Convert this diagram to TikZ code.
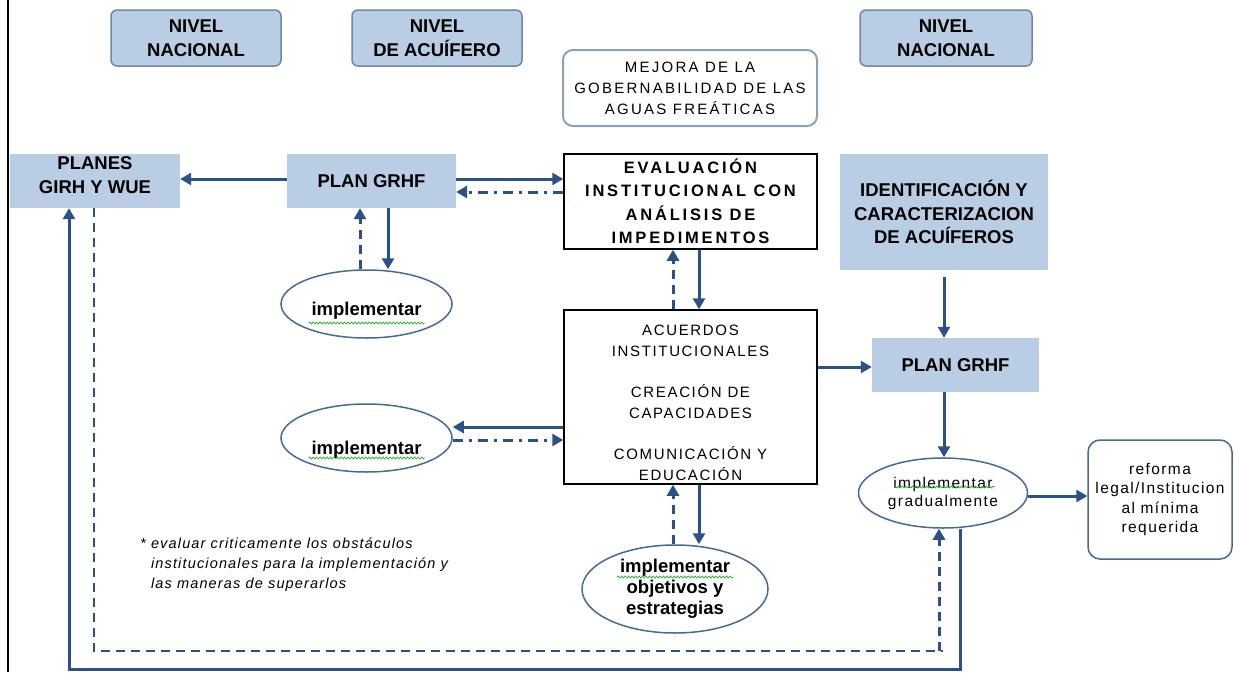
\documentclass[tikz,border=0pt]{standalone}
\usepackage{fontspec}
\setmainfont{Liberation Sans}
\newfontfamily\spacedfont[LetterSpace=15]{Liberation Sans}
\newfontfamily\widebold[LetterSpace=17]{Liberation Sans}
\newfontfamily\acuerdosfont[LetterSpace=11]{Liberation Sans}
\newfontfamily\softspaced[LetterSpace=9]{Liberation Sans}
\newfontfamily\notefont[LetterSpace=8]{Liberation Sans}
\usetikzlibrary{arrows.meta,shapes.geometric,decorations.pathmorphing}

\definecolor{boxblue}{RGB}{185,205,229}
\definecolor{edgeblue}{RGB}{110,135,172}
\definecolor{arrowblue}{RGB}{42,82,137}
\definecolor{ovalblue}{RGB}{72,104,150}
\definecolor{softedge}{RGB}{140,160,190}
\definecolor{squiggle}{RGB}{40,170,40}

\tikzset{
  levelbox/.style={draw=edgeblue, line width=1.5pt, fill=boxblue, rounded corners=6pt,
    minimum width=170pt, minimum height=56pt, inner sep=0pt, align=center,
    font=\fontsize{18.5}{24}\selectfont\bfseries},
  bluebox/.style={fill=boxblue, inner sep=0pt, align=center,
    font=\fontsize{18.5}{24}\selectfont\bfseries},
  framebox/.style={draw=black, line width=1.5pt, fill=white, inner sep=0pt, align=center},
  oval/.style={ellipse, draw=ovalblue, line width=1.5pt, inner sep=0pt},
  label text/.style={inner sep=0pt, align=center},
  arr/.style={draw=arrowblue, line width=3pt, -{Triangle[length=11pt,width=12pt]}},
  dashedarr/.style={arr, dash pattern=on 9pt off 6pt},
  dashdotarr/.style={arr, dash pattern=on 10pt off 6pt on 3pt off 6pt},
  dashedline/.style={draw=arrowblue, line width=2.5pt, dash pattern=on 9pt off 6pt},
  squig/.style={draw=squiggle, line width=0.7pt, decorate,
    decoration={snake, amplitude=1pt, segment length=3.5pt}},
}

\begin{document}
\begin{tikzpicture}[x=1pt,y=-1pt]
\useasboundingbox (0,0) rectangle (1234,672);

% page edge on the left
\draw[line width=2pt] (8,0) -- (8,672);

% level headers
\node[levelbox] (nv1) at (196,38) {NIVEL\\NACIONAL};
\node[levelbox] (nv2) at (437,38) {NIVEL\\DE ACUÍFERO};
\node[levelbox, minimum width=172pt] (nv3) at (946,38) {NIVEL\\NACIONAL};

% goal
\node[draw=softedge, line width=2pt, rounded corners=10pt, minimum width=254pt,
  minimum height=76pt, inner sep=0pt, align=center,
  font=\spacedfont\fontsize{15}{21}\selectfont] (mej) at (690,88)
  {MEJORA DE LA\\GOBERNABILIDAD DE LAS\\AGUAS FREÁTICAS};

% national / aquifer plans
\node[bluebox, minimum width=170pt, minimum height=54pt] (pl) at (95,181) {};
\node[label text, anchor=north, font=\fontsize{18.5}{24}\selectfont\bfseries] (pltext)
  at (95,156) {PLANES\\GIRH Y WUE};
\node[bluebox, minimum width=169pt, minimum height=54pt] (pg1) at (371.5,181) {PLAN GRHF};

% institutional evaluation
\node[framebox, minimum width=253pt, minimum height=95pt,
  font=\widebold\fontsize{16.5}{23.5}\selectfont\bfseries] (ev) at (690.5,201.5)
  {EVALUACIÓN\\INSTITUCIONAL CON\\ANÁLISIS DE\\IMPEDIMENTOS};

% aquifer identification
\node[bluebox, minimum width=208pt, minimum height=116pt,
  font=\fontsize{18.5}{23.5}\selectfont\bfseries] (id) at (944,212)
  {IDENTIFICACIÓN Y\\CARACTERIZACION\\DE ACUÍFEROS};

% implementation ovals on the left
\node[oval, minimum width=171pt, minimum height=68pt] (im1) at (366.5,304) {};
\node[label text, anchor=base, font=\fontsize{18.5}{22}\selectfont\bfseries] (im1text)
  at (366.5,315) {implementar};
\node[oval, minimum width=171pt, minimum height=68pt] (im2) at (366.5,438) {};
\node[label text, anchor=base, font=\fontsize{18.5}{22}\selectfont\bfseries] (im2text)
  at (366.5,454) {implementar};

% institutional measures
\node[framebox, minimum width=253pt, minimum height=174pt] (ac) at (690.5,397) {};
\node[label text, anchor=north, font=\acuerdosfont\fontsize{15}{20.7}\selectfont] (actext)
  at (690.5,325)
  {ACUERDOS\\INSTITUCIONALES\\[20.7pt]CREACIÓN DE\\CAPACIDADES\\[20.7pt]COMUNICACIÓN Y\\EDUCACIÓN};

% national plan and gradual implementation
\node[bluebox, minimum width=167pt, minimum height=54pt] (pg2) at (955.5,365) {PLAN GRHF};
\node[oval, minimum width=169pt, minimum height=70pt,
  font=\softspaced\fontsize{15.5}{18}\selectfont, align=center] (gr) at (943,493)
  {implementar\\gradualmente};
\node[draw=ovalblue, line width=1.5pt, rounded corners=12pt, minimum width=144pt,
  minimum height=119pt, inner sep=0pt, align=center,
  font=\softspaced\fontsize{15.5}{19.5}\selectfont] (rf) at (1160,499.5)
  {reforma\\legal/Institucion\\al mínima\\requerida};

% objectives oval
\node[oval, minimum width=186pt, minimum height=88pt, align=center,
  font=\fontsize{18.5}{21}\selectfont\bfseries] (ob) at (675,589)
  {implementar\\objetivos y\\estrategias};

% note
\node[label text, anchor=north west, align=left,
  font=\notefont\fontsize{14.5}{20}\selectfont\itshape] (note) at (140,537.5)
  {* evaluar criticamente los obstáculos\\
   \phantom{*\ }institucionales para la implementación y\\
   \phantom{*\ }las maneras de superarlos};

% spelling marks under "implementar"
\draw[squig] ([shift={(-58pt,-19pt)}]im1.center) -- ([shift={(58pt,-19pt)}]im1.center);
\draw[squig] ([shift={(-58pt,-20pt)}]im2.center) -- ([shift={(58pt,-20pt)}]im2.center);
\draw[squig] ([shift={(-58pt,12pt)}]ob.center) -- ([shift={(58pt,12pt)}]ob.center);
\draw[squig] ([shift={(-49pt,6pt)}]gr.center) -- ([shift={(52pt,6pt)}]gr.center);

% top row connections
\draw[arr] ([yshift=2pt]pg1.west) -- ([yshift=2pt]pg1.west -| pl.east);
\draw[arr] ([yshift=2pt]pg1.east) -- ([yshift=2pt]pg1.east -| ev.west);
\draw[dashdotarr] ([yshift=-11pt]pg1.east -| ev.west) -- ([yshift=-11pt]pg1.east);

% plan <-> implementation
\draw[dashedarr] ([xshift=-11.5pt]pg1.south |- im1.north) -- ([xshift=-11.5pt]pg1.south);
\draw[arr] ([xshift=16.5pt]pg1.south) -- ([xshift=16.5pt]pg1.south |- im1.north);

% evaluation <-> measures
\draw[dashedarr] ([xshift=-17.5pt]ev.south |- ac.north) -- ([xshift=-17.5pt]ev.south);
\draw[arr] ([xshift=8.5pt]ev.south) -- ([xshift=8.5pt]ev.south |- ac.north);

% measures <-> implementation
\draw[arr] ([yshift=-30pt]ac.west) -- ([yshift=-30pt]ac.west -| im2.east);
\draw[dashdotarr] ([yshift=-43pt]ac.west -| im2.east) -- ([yshift=-43pt]ac.west);

% measures <-> objectives
\draw[dashedarr] ([xshift=-17.5pt]ac.south |- ob.north) -- ([xshift=-17.5pt]ac.south);
\draw[arr] ([xshift=8.5pt]ac.south) -- ([xshift=8.5pt]ac.south |- ob.north);

% right column
\draw[arr] ([yshift=30pt]ac.east) -- ([yshift=30pt]ac.east -| pg2.west);
\draw[arr] ([yshift=-7pt]id.south) -- (id.south |- pg2.north);
\draw[arr] (id.south |- pg2.south) -- (id.south |- gr.north);
\draw[arr] ([yshift=-3pt]gr.east) -- ([yshift=-3pt]gr.east -| rf.west);

% feedback loops along the bottom
\coordinate (loopsolid) at (69,669);
\coordinate (loopdash) at (94,651);
\draw[arr] ([xshift=17pt]gr.south) -- ([xshift=17pt]gr.south |- loopsolid)
  -- (loopsolid) -- (loopsolid |- pl.south);
\draw[dashedline] (loopdash |- pl.south) -- (loopdash) -- (loopdash -| gr.south);
\draw[dashedarr] ([xshift=-4pt]gr.south |- loopdash) -- ([xshift=-4pt]gr.south);
\end{tikzpicture}
\end{document}
